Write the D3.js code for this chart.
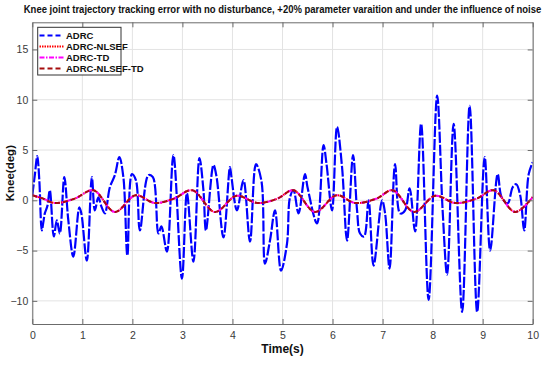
<!doctype html>
<html>
<head>
<meta charset="UTF-8">
<title>Knee joint trajectory tracking error</title>
<script src="https://cdn.jsdelivr.net/npm/d3@7"></script>
<style>
  body { margin: 0; background: #fff; }
  svg { display: block; }
  text { font-family: "Liberation Sans Narrow", "Liberation Sans", Arial, sans-serif; }
</style>
</head>
<body>
<div id="chart"></div>
<script>
// time axis ticks (s) and knee error ticks (deg)
const xTicks = [0, 1, 2, 3, 4, 5, 6, 7, 8, 9, 10];
const yTicks = [-10, -5, 0, 5, 10, 15];

// ADRC error
const adrcTime = [0, 0.05, 0.1, 0.14, 0.19, 0.22, 0.25, 0.3, 0.35, 0.43, 0.49, 0.55, 0.64, 0.72, 0.82, 0.94, 0.98,
  1.09, 1.19, 1.25, 1.32, 1.38, 1.45, 1.55, 1.65, 1.74, 1.82, 1.9, 1.99, 2.07, 2.15, 2.32, 2.41, 2.52, 2.58,
  2.69, 2.82, 2.99, 3.09, 3.22, 3.34, 3.42, 3.47, 3.62, 3.68, 3.82, 3.95, 3.98, 4.09, 4.22, 4.35, 4.47, 4.58,
  4.65, 4.75, 4.85, 4.97, 5.09, 5.15, 5.22, 5.32, 5.45, 5.5, 5.69, 5.82, 5.88, 5.99, 6.09, 6.19, 6.29, 6.41,
  6.49, 6.55, 6.63, 6.72, 6.82, 6.99, 7.05, 7.14, 7.25, 7.35, 7.45, 7.54, 7.65, 7.77, 7.92, 8.09, 8.2, 8.29,
  8.42, 8.59, 8.74, 8.89, 9.04, 9.15, 9.3, 9.38, 9.5, 9.6, 9.67, 9.75, 9.83, 9.92, 10];
const adrcErr = [0.5, 2.5, 4.4, 2.0, -3.0, -2.2, -1.3, -0.6, 1.0, -3.6, -2.0, -3.3, 2.3, -2.0, -5.6, -0.7, -1.3,
  -6.0, 2.3, -1.0, 0.3, -0.6, -1.3, 1.3, 2.5, 4.3, 2.3, -5.5, 2.6, 2.0, -3.0, 2.5, 2.3, -3.3, -2.6,
  -5.1, 4.5, -7.8, 0.7, -6.1, 4.2, 1.0, -3.0, 3.5, 2.4, -3.7, 3.3, 2.3, -1.0, 2.0, -4.1, 3.6, 1.9,
  -6.3, -4.0, -1.0, -7.0, -4.3, 0.3, 1.0, -1.3, 2.6, 1.3, -2.3, 5.5, 3.6, -1.0, 7.3, 3.3, -4.0, 4.5,
  -1.0, -3.3, -3.6, 0.0, -6.5, 0.0, -1.3, -6.8, 3.6, -1.3, -1.0, 1.2, -3.1, 7.6, -9.9, 10.4, -1.0, -7.4,
  7.6, -11.1, 9.4, -11.1, 4.3, -5.0, 2.6, 0.3, -0.3, 1.3, 1.6, 0.5, -3.0, 2.6, 3.8];

// ADRC-NLSEF, ADRC-TD and ADRC-NLSEF-TD lie on top of each other in the picture
const nlsefTime = [0, 0.2, 0.45, 0.85, 1.22, 1.65, 2.06, 2.45, 2.83, 3.2, 3.65, 4.08, 4.5, 4.9, 5.22, 5.65,
  6.08, 6.45, 6.88, 7.2, 7.63, 8.05, 8.45, 8.88, 9.22, 9.65, 10];
const nlsefErr = [0.5, 0.2, -0.27, 0.17, 1.0, -1.16, 0.5, -0.27, 0.17, 1.0, -1.16, 0.45, -0.27, 0.17, 1.0, -1.16,
  0.5, -0.27, 0.17, 1.0, -1.16, 0.45, -0.27, 0.17, 1.0, -1.16, 0.33];
const tdErr = nlsefErr;
const nlsefTdErr = nlsefErr;

const seriesNames = ["ADRC", "ADRC-NLSEF", "ADRC-TD", "ADRC-NLSEF-TD"];

const W = 550, H = 365;
const padL = 32.3, padR = 532.7, padT = 22.3, padB = 324;

const svg = d3.select("#chart").append("svg")
  .attr("width", W).attr("height", H);

const x = d3.scaleLinear().domain([0, 10]).range([padL, padR]);
const y = d3.scaleLinear().domain([-12.3, 17.7]).range([padB, padT]);

svg.append("rect")
  .attr("x", padL).attr("y", padT)
  .attr("width", padR - padL).attr("height", padB - padT)
  .attr("fill", "#fff");

// grid
const grid = svg.append("g").attr("stroke", "#e3e3e3").attr("stroke-width", 1);
grid.selectAll(".gx").data(xTicks).join("line")
  .attr("x1", d => x(d)).attr("x2", d => x(d))
  .attr("y1", padT).attr("y2", padB);
grid.selectAll(".gy").data(yTicks).join("line")
  .attr("x1", padL).attr("x2", padR)
  .attr("y1", d => y(d)).attr("y2", d => y(d));

// lines
svg.append("clipPath").attr("id", "clip").append("rect")
  .attr("x", padL).attr("y", padT).attr("width", padR - padL).attr("height", padB - padT);

const plot = svg.append("g").attr("clip-path", "url(#clip)");
const line = d3.line().x(d => x(d[0])).y(d => y(d[1])).curve(d3.curveCatmullRom.alpha(0.5));

// plotDash: how the style looks on the noisy data; legendDash: the legend sample
const series = [
  { name: seriesNames[0], t: adrcTime, v: adrcErr, color: "#0000ff", plotDash: "11,2", legendDash: "5,3", w: 2.2 },
  { name: seriesNames[1], t: nlsefTime, v: nlsefErr, color: "#ff0000", plotDash: "1.5,1.5", legendDash: "1.5,1", w: 2 },
  { name: seriesNames[2], t: nlsefTime, v: tdErr, color: "#ff00ff", plotDash: "6,2,1.5,2", legendDash: "5,1.5,1.5,1.5", w: 2 },
  { name: seriesNames[3], t: nlsefTime, v: nlsefTdErr, color: "#a50d0d", plotDash: "5,3", legendDash: "5,3", w: 2 }
];

for (const s of series) {
  plot.append("path")
    .attr("d", line(d3.zip(s.t, s.v)))
    .attr("fill", "none")
    .attr("stroke", s.color)
    .attr("stroke-width", s.w)
    .attr("stroke-dasharray", s.plotDash);
}

// axes, ticks pointing inward
const axisColor = "#6b6b6b";
const gx = svg.append("g").attr("transform", `translate(0,${padB})`)
  .call(d3.axisBottom(x).tickValues(xTicks).tickSize(-5).tickSizeOuter(0).tickPadding(8));
const gy = svg.append("g").attr("transform", `translate(${padL},0)`)
  .call(d3.axisLeft(y).tickValues(yTicks).tickSize(-5).tickSizeOuter(0).tickPadding(4));
const gt = svg.append("g").attr("transform", `translate(0,${padT})`)
  .call(d3.axisTop(x).tickValues(xTicks).tickSize(-5).tickSizeOuter(0).tickFormat(""));
const gr = svg.append("g").attr("transform", `translate(${padR},0)`)
  .call(d3.axisRight(y).tickValues(yTicks).tickSize(-5).tickSizeOuter(0).tickFormat(""));

for (const g of [gx, gy, gt, gr]) {
  g.selectAll("path, line").attr("stroke", axisColor);
  g.selectAll("text")
    .attr("fill", "#3a3a3a")
    .style("font-size", "10.5px")
    .style("font-family", '"Liberation Sans Narrow", "Liberation Sans", Arial, sans-serif');
}

// legend
const lg = svg.append("g");
lg.append("rect")
  .attr("x", 37.7).attr("y", 27.3).attr("width", 83.3).attr("height", 47.7)
  .attr("fill", "#fff").attr("stroke", "#333").attr("stroke-width", 1);
const legendY = [35.5, 46.5, 57.5, 68.5];
series.forEach((s, i) => {
  lg.append("line")
    .attr("x1", 39.5).attr("x2", 63.5)
    .attr("y1", legendY[i]).attr("y2", legendY[i])
    .attr("stroke", s.color).attr("stroke-width", 2)
    .attr("stroke-dasharray", s.legendDash);
  lg.append("text")
    .attr("x", 66).attr("y", legendY[i] + 3.2)
    .style("font-size", "9.5px").style("font-weight", "bold")
    .attr("fill", "#111")
    .text(s.name);
});

// title: squeezed horizontally to the width it has in the picture
const title = svg.append("text")
  .attr("x", 0).attr("y", 0)
  .attr("text-anchor", "middle")
  .style("font-size", "11px").style("font-weight", "bold")
  .attr("fill", "#111")
  .text("Knee joint trajectory tracking error with no disturbance, +20% parameter varaition and under the influence of noise");
const titleW = title.node().getComputedTextLength();
const sx = Math.min(1, 518 / titleW);
title.attr("transform", `translate(${(padL + padR) / 2},13) scale(${sx},1)`);

svg.append("text")
  .attr("x", (padL + padR) / 2).attr("y", 353)
  .attr("text-anchor", "middle")
  .style("font-size", "12px").style("font-weight", "bold")
  .attr("fill", "#111")
  .text("Time(s)");

svg.append("text")
  .attr("transform", `translate(13.5,${(padT + padB) / 2}) rotate(-90)`)
  .attr("text-anchor", "middle")
  .style("font-size", "11.5px").style("font-weight", "bold")
  .attr("fill", "#111")
  .text("Knee(deg)");
</script>
</body>
</html>
